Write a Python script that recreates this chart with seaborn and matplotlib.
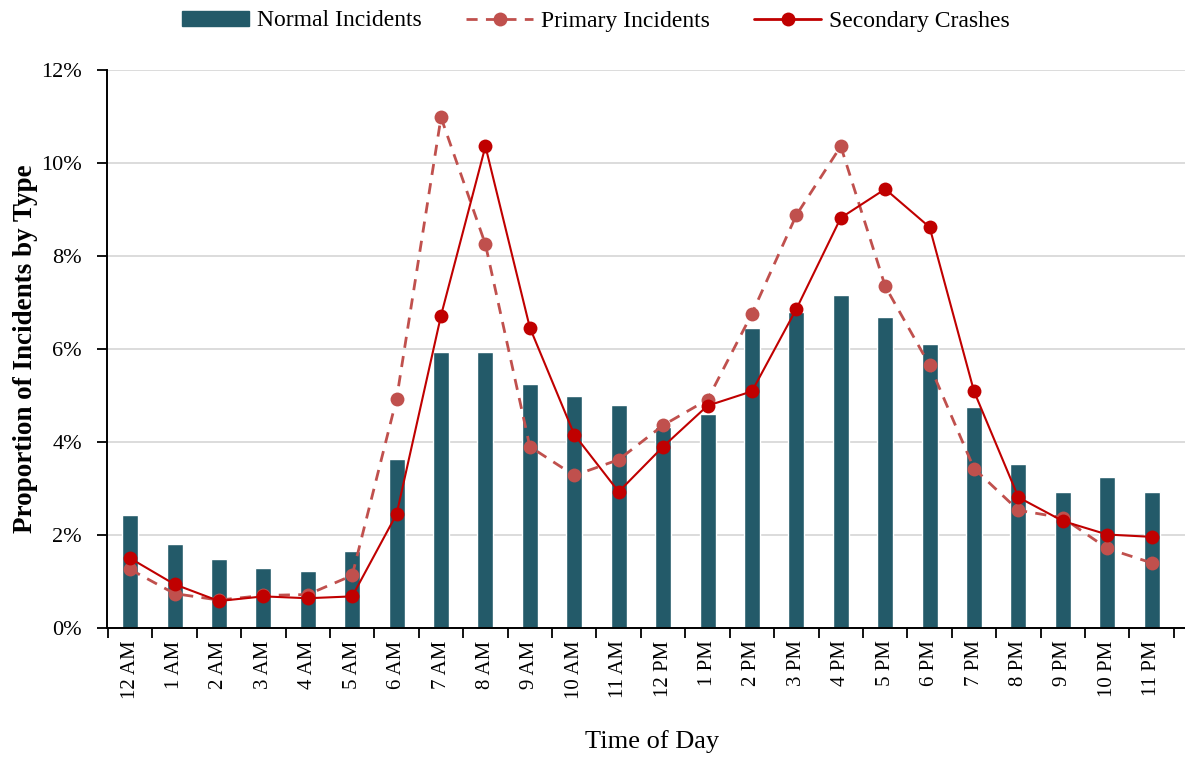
import numpy as np
import pandas as pd
import matplotlib
matplotlib.use("Agg")
import matplotlib.pyplot as plt
import seaborn as sns
from matplotlib.ticker import FixedLocator, PercentFormatter
from matplotlib.patches import Patch
from matplotlib.lines import Line2D

hours = ["12 AM", "1 AM", "2 AM", "3 AM", "4 AM", "5 AM", "6 AM", "7 AM", "8 AM", "9 AM",
         "10 AM", "11 AM", "12 PM", "1 PM", "2 PM", "3 PM", "4 PM", "5 PM", "6 PM", "7 PM",
         "8 PM", "9 PM", "10 PM", "11 PM"]
normal = [2.42, 1.81, 1.49, 1.30, 1.23, 1.65, 3.64, 5.93, 5.93, 5.25, 4.99, 4.79,
          4.32, 4.61, 6.45, 6.80, 7.16, 6.69, 6.11, 4.76, 3.52, 2.92, 3.24, 2.92]
primary = [1.26, 0.74, 0.60, 0.70, 0.72, 1.13, 4.93, 10.98, 8.25, 3.90, 3.28, 3.62,
           4.36, 4.91, 6.76, 8.88, 10.36, 7.35, 5.65, 3.43, 2.53, 2.37, 1.71, 1.40]
secondary = [1.50, 0.94, 0.58, 0.68, 0.64, 0.68, 2.45, 6.72, 10.36, 6.46, 4.16, 2.93,
             3.90, 4.78, 5.09, 6.86, 8.82, 9.44, 8.62, 5.09, 2.81, 2.30, 2.01, 1.96]

bar_color = "#235A69"
prim_color = "#C0504D"
sec_color = "#C00000"

sns.set_theme(style="white")
plt.rcParams['font.family'] = ['Liberation Serif', 'DejaVu Serif']
plt.rcParams['text.color'] = 'black'
plt.rcParams['axes.labelcolor'] = 'black'
plt.rcParams['xtick.color'] = 'black'
plt.rcParams['ytick.color'] = 'black'

df = pd.DataFrame({"hour": hours, "pos": np.arange(len(hours)),
                   "normal": normal, "primary": primary, "secondary": secondary})

fig = plt.figure(figsize=(11.85, 7.59), dpi=100)
ax = fig.add_axes([107 / 1185, 1 - 628 / 759, (1185 - 107) / 1185, 558 / 759])

ax.yaxis.grid(True, color="#D9D9D9", linewidth=1.3)
ax.set_axisbelow(True)

sns.barplot(data=df, x="pos", y="normal", color=bar_color, width=0.36,
            saturation=1, ax=ax, native_scale=True, zorder=2)
sns.lineplot(data=df, x="pos", y="primary", color=prim_color, linestyle=(0, (4, 3)),
             linewidth=2, marker="o", markersize=10, markeredgewidth=0, ax=ax, zorder=3)
sns.lineplot(data=df, x="pos", y="secondary", color=sec_color, linewidth=1.5,
             marker="o", markersize=10, markeredgewidth=0, ax=ax, zorder=4)

ax.set_xlim(-0.52, len(hours) - 0.25)
ax.set_ylim(0, 12)
ax.yaxis.set_major_locator(FixedLocator(np.arange(0, 13, 2)))
ax.yaxis.set_major_formatter(PercentFormatter(decimals=0))

ax.xaxis.set_major_locator(FixedLocator(np.arange(-0.5, len(hours), 1)))
ax.xaxis.set_minor_locator(FixedLocator(np.arange(len(hours))))
ax.set_xticklabels([], minor=False)
ax.set_xticklabels(hours, minor=True, rotation=90, fontsize=15)
ax.tick_params(axis="x", which="major", direction="out", length=7, width=1.3, bottom=True)
ax.tick_params(axis="x", which="minor", length=0, pad=9)
ax.tick_params(axis="y", which="major", direction="out", length=7, width=1.3,
               left=True, labelsize=16, pad=11)

for s in ["top", "right"]:
    ax.spines[s].set_visible(False)
for s in ["left", "bottom"]:
    ax.spines[s].set_color("black")
    ax.spines[s].set_linewidth(1.4)

ax.set_xlabel("Time of Day", fontsize=19)
ax.xaxis.set_label_coords((652 - 107) / 1078, -(730 - 628) / 558)
ax.set_ylabel("Proportion of Incidents by Type", fontsize=19.5, fontweight="bold")
ax.yaxis.set_label_coords(-(107 - 38) / 1078, 0.5)

handles = [Patch(facecolor=bar_color, edgecolor=bar_color),
           Line2D([0], [0], color=prim_color, linestyle=(0, (4, 3)), linewidth=2, marker="o",
                  markersize=10, markeredgewidth=0),
           Line2D([0], [0], color=sec_color, linewidth=2, marker="o", markersize=10,
                  markeredgewidth=0)]
labels = ["Normal Incidents", "Primary Incidents", "Secondary Crashes"]
fig.legend(handles, labels, loc="center", bbox_to_anchor=(596 / 1185, 1 - 21 / 759), ncol=3,
           frameon=False, fontsize=17, handlelength=2.85, handleheight=0.6,
           handletextpad=0.34, columnspacing=1.86, borderpad=0)

fig.savefig("out.png", dpi=100)
